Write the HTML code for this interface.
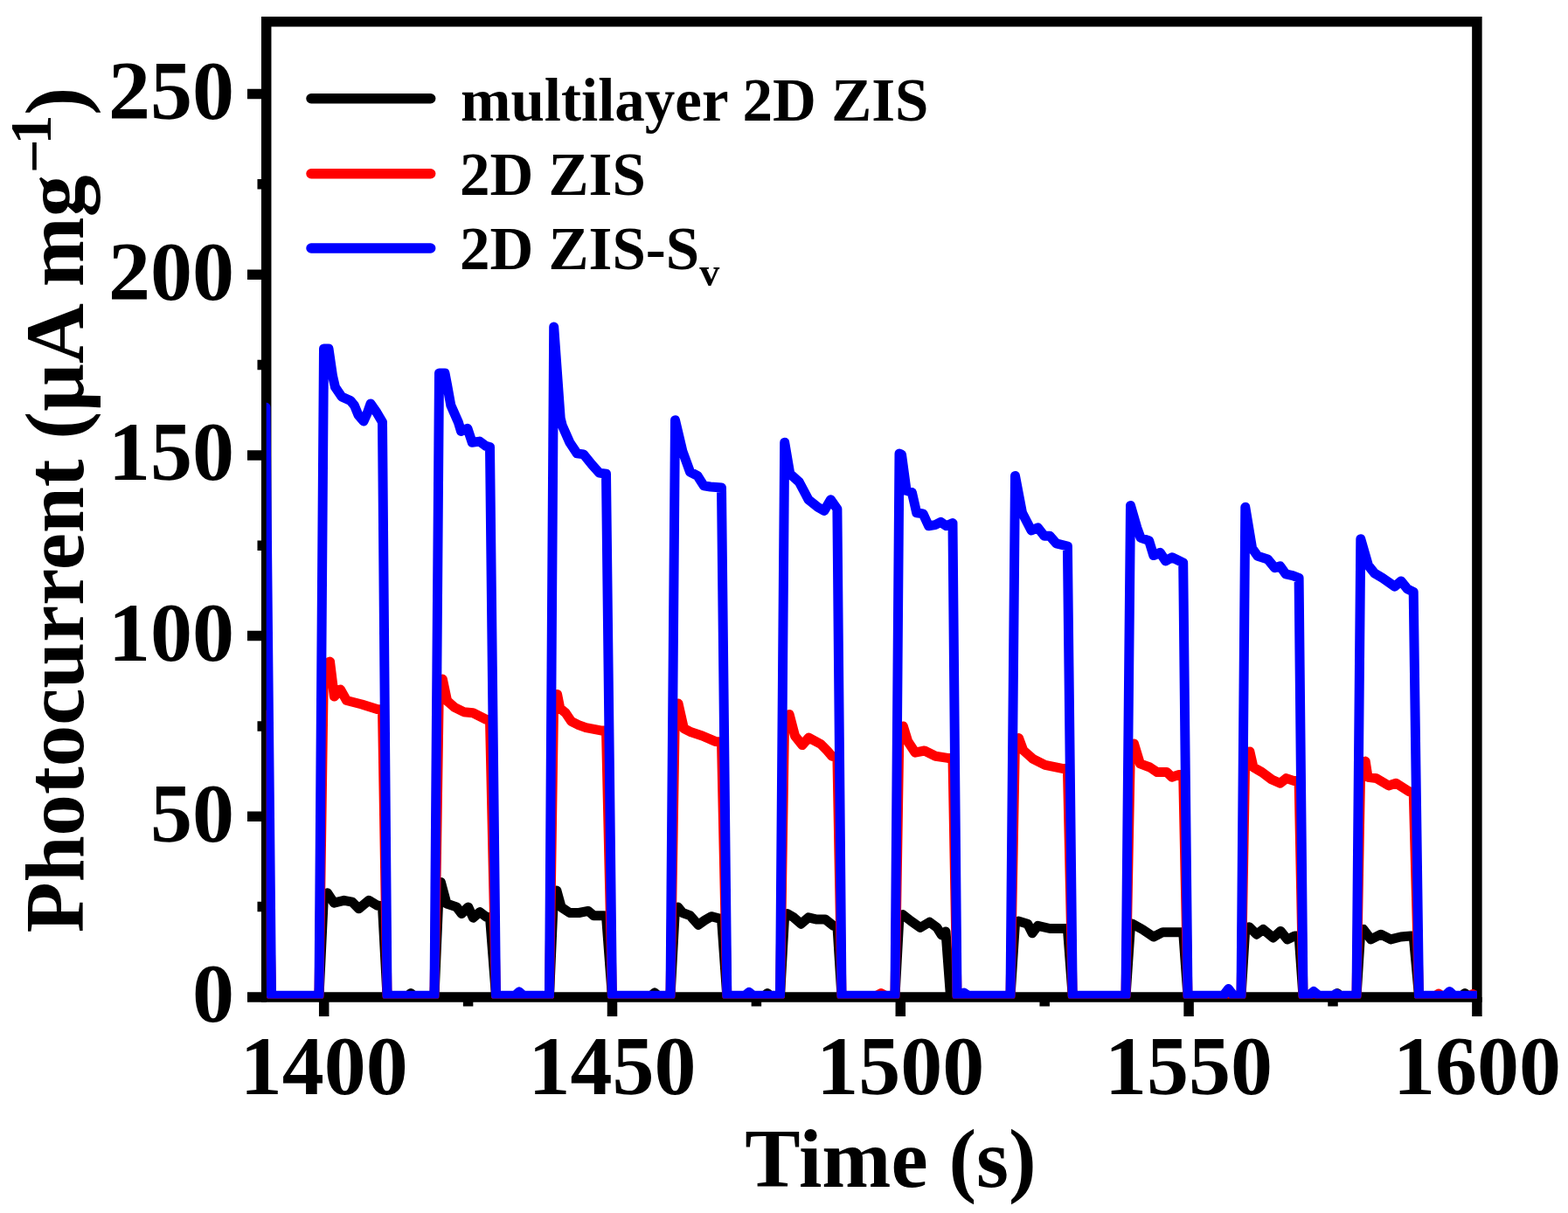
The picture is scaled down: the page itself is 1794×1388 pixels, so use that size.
<!DOCTYPE html>
<html><head><meta charset="utf-8"><style>
html,body{margin:0;padding:0;background:#fff;}
svg{display:block;}
text{font-family:"Liberation Serif","Times New Roman",serif;font-weight:bold;fill:#000;}
</style></head><body>
<svg width="1794" height="1388" viewBox="0 0 1794 1388">
<rect width="1794" height="1388" fill="#fff"/>
<defs><clipPath id="pc"><rect x="304.7" y="24.8" width="1385.2" height="1117.7"/></clipPath></defs>
<g stroke="#000" stroke-width="11.5" fill="none" stroke-linecap="butt">
<rect x="304.7" y="24.8" width="1385.2" height="1116.2" stroke-linejoin="miter"/>
<path d="M370.7 1141.0V1163 M700.5 1141.0V1163 M1030.3 1141.0V1163 M1360.1 1141.0V1163 M1689.9 1141.0V1163 M535.6 1141.0V1151.5 M865.4 1141.0V1151.5 M1195.2 1141.0V1151.5 M1525.0 1141.0V1151.5 M304.7 1141.0H283 M304.7 934.3H283 M304.7 727.6H283 M304.7 520.9H283 M304.7 314.2H283 M304.7 107.5H283 M304.7 1037.6H294.5 M304.7 830.9H294.5 M304.7 624.2H294.5 M304.7 417.5H294.5 M304.7 210.8H294.5"/>
</g>
<g clip-path="url(#pc)" fill="none" stroke-width="11.0" stroke-linejoin="round" stroke-linecap="round">
<path stroke="#000" d="M297.5 1035.0 L304.0 1035.0 L310.5 1140.3 L365.0 1140.3 L370.5 1024.0 L374.6 1021.8 L382.2 1033.2 L393.6 1030.3 L403.0 1032.2 L410.6 1039.8 L422.0 1030.3 L431.5 1036.0 L437.5 1037.0 L443.0 1140.3 L466.0 1140.3 L470.0 1136.5 L474.0 1140.3 L497.0 1140.3 L502.5 1012.0 L504.4 1009.5 L511.0 1034.0 L522.4 1037.9 L528.1 1045.5 L535.7 1037.9 L541.4 1050.2 L549.0 1043.6 L556.6 1049.3 L560.5 1049.5 L567.5 1140.3 L628.5 1140.3 L633.7 1020.0 L636.9 1019.0 L642.2 1038.1 L651.8 1044.5 L662.4 1044.5 L673.0 1042.4 L679.3 1047.7 L689.9 1047.7 L693.5 1048.0 L700.4 1140.3 L744.0 1140.3 L749.0 1136.0 L754.0 1140.3 L767.0 1140.3 L772.5 1039.0 L775.7 1038.0 L781.0 1044.5 L789.5 1047.7 L799.0 1058.3 L806.4 1053.0 L813.8 1048.7 L822.3 1050.8 L825.5 1051.0 L831.8 1140.3 L874.0 1140.3 L878.0 1136.5 L882.0 1140.3 L892.5 1140.3 L897.7 1047.0 L900.7 1045.5 L908.1 1049.8 L916.5 1057.2 L925.0 1049.8 L933.5 1051.9 L944.1 1051.9 L953.6 1059.3 L957.9 1059.5 L963.0 1140.3 L1024.0 1140.3 L1029.0 1048.0 L1032.8 1046.6 L1042.4 1054.0 L1053.0 1061.4 L1063.5 1055.1 L1072.0 1061.4 L1077.3 1069.9 L1082.0 1066.0 L1087.5 1140.3 L1156.0 1140.3 L1161.5 1056.0 L1165.2 1054.0 L1175.8 1057.2 L1181.1 1067.8 L1187.5 1059.3 L1201.2 1062.5 L1218.2 1062.5 L1221.4 1062.5 L1227.2 1140.3 L1288.0 1140.3 L1293.5 1059.0 L1295.5 1057.2 L1307.1 1063.5 L1319.8 1072.0 L1330.4 1066.7 L1349.5 1066.7 L1353.7 1066.7 L1359.0 1140.3 L1420.0 1140.3 L1424.8 1062.0 L1429.2 1060.7 L1437.7 1069.2 L1445.3 1063.5 L1456.7 1073.0 L1465.2 1065.4 L1472.8 1074.9 L1481.3 1071.1 L1486.1 1071.0 L1491.0 1140.3 L1526.0 1140.3 L1530.0 1136.5 L1534.0 1140.3 L1552.0 1140.3 L1556.8 1065.0 L1560.0 1063.5 L1568.5 1074.9 L1579.9 1069.2 L1591.2 1074.9 L1602.6 1072.0 L1614.0 1071.1 L1617.2 1071.0 L1623.5 1140.3 L1672.0 1140.3 L1676.0 1136.5 L1680.0 1140.3 L1695.0 1140.3"/>
<path stroke="#f00" d="M297.5 818.0 L304.0 818.0 L310.5 1139.8 L365.0 1139.8 L370.5 760.0 L377.5 757.0 L382.4 797.0 L389.5 789.0 L396.5 801.5 L414.0 806.0 L431.5 811.6 L437.5 812.0 L443.0 1139.8 L497.0 1139.8 L502.5 778.5 L506.3 777.0 L511.6 802.0 L520.0 809.4 L530.6 814.7 L541.2 815.8 L556.1 823.2 L560.5 824.0 L567.5 1139.8 L628.5 1139.8 L633.7 798.0 L637.6 794.5 L640.8 810.5 L647.1 815.8 L653.5 825.3 L662.0 829.6 L670.4 832.7 L687.4 835.9 L693.5 836.0 L700.4 1139.8 L767.0 1139.8 L772.5 808.0 L776.0 805.0 L782.4 833.5 L790.8 837.8 L803.5 842.0 L818.4 848.4 L825.5 849.0 L831.8 1139.8 L892.5 1139.8 L897.7 820.0 L903.1 817.5 L909.5 842.0 L917.9 852.6 L925.3 844.1 L939.1 851.5 L946.5 859.0 L951.8 865.3 L957.9 866.0 L963.0 1139.8 L1002.0 1139.8 L1008.0 1136.5 L1014.0 1139.8 L1024.0 1139.8 L1029.0 834.0 L1033.4 831.0 L1038.7 848.4 L1047.1 861.1 L1057.7 859.0 L1070.4 865.3 L1084.2 867.4 L1090.0 867.5 L1095.0 1139.8 L1156.0 1139.8 L1161.5 847.0 L1165.6 844.6 L1170.7 858.5 L1181.8 868.3 L1195.7 875.3 L1215.3 879.4 L1221.4 879.5 L1227.2 1139.8 L1288.0 1139.8 L1293.5 853.0 L1297.5 851.0 L1304.4 873.9 L1315.6 878.0 L1324.0 883.6 L1335.1 883.6 L1340.7 889.2 L1349.0 886.4 L1353.7 886.5 L1359.0 1139.8 L1420.0 1139.8 L1424.8 862.0 L1429.9 859.9 L1434.0 878.0 L1443.8 883.6 L1455.0 892.0 L1464.7 896.2 L1471.7 890.6 L1480.0 893.4 L1486.1 893.5 L1491.0 1139.8 L1552.0 1139.8 L1556.8 873.0 L1562.2 871.1 L1565.0 889.2 L1574.8 890.6 L1588.7 898.9 L1597.1 896.2 L1612.4 905.9 L1617.2 906.0 L1623.5 1139.8 L1642.0 1139.8 L1646.0 1137.0 L1650.0 1139.8 L1681.0 1139.8 L1685.0 1137.5 L1689.0 1139.8 L1695.0 1139.8"/>
<path stroke="#00f" d="M297.5 466.0 L304.0 466.0 L310.5 1139.3 L365.0 1139.3 L370.5 399.0 L376.0 399.0 L380.5 430.0 L383.5 443.0 L391.0 454.0 L401.0 458.5 L405.5 464.0 L410.0 475.0 L416.0 482.0 L420.5 472.0 L424.0 462.0 L431.0 472.0 L437.5 483.0 L443.0 1139.3 L497.0 1139.3 L502.5 427.0 L509.0 427.0 L511.6 440.5 L515.8 463.8 L524.3 482.9 L527.5 493.4 L534.9 490.3 L540.2 506.2 L548.6 505.1 L556.1 510.4 L560.5 511.5 L567.5 1139.3 L589.0 1139.3 L594.0 1135.0 L599.0 1139.3 L628.5 1139.3 L633.7 374.0 L641.2 478.6 L643.3 487.0 L651.8 506.2 L660.2 518.9 L667.7 519.9 L677.2 531.6 L685.7 541.1 L693.5 542.2 L700.4 1139.3 L767.0 1139.3 L772.5 480.7 L781.0 516.7 L789.5 540.0 L797.9 544.3 L805.3 555.9 L812.8 557.0 L825.5 558.0 L831.8 1139.3 L852.0 1139.3 L857.0 1135.5 L862.0 1139.3 L892.5 1139.3 L897.7 506.2 L903.8 542.2 L914.4 551.7 L925.0 571.8 L935.6 580.3 L943.0 584.5 L950.4 571.8 L957.9 582.4 L963.0 1139.3 L1024.0 1139.3 L1029.0 519.0 L1031.5 520.0 L1037.1 561.4 L1043.4 563.5 L1048.7 586.8 L1056.1 587.9 L1062.5 601.7 L1069.9 600.6 L1076.3 597.4 L1082.6 601.7 L1090.0 598.5 L1095.0 1139.3 L1098.0 1139.3 L1103.0 1136.0 L1108.0 1139.3 L1156.0 1139.3 L1161.5 544.5 L1169.5 586.8 L1180.0 607.0 L1187.5 603.8 L1194.9 613.3 L1201.2 613.3 L1208.6 621.8 L1221.4 625.0 L1227.2 1139.3 L1288.0 1139.3 L1293.5 578.4 L1300.8 603.8 L1305.0 615.4 L1314.6 618.6 L1319.8 635.6 L1327.3 632.4 L1333.6 641.9 L1341.0 637.7 L1353.7 644.0 L1359.0 1139.3 L1399.5 1139.3 L1405.5 1131.5 L1411.5 1139.3 L1420.0 1139.3 L1424.8 580.3 L1432.6 627.4 L1438.9 636.3 L1450.5 639.9 L1458.5 649.7 L1464.7 647.9 L1471.0 656.8 L1479.0 658.6 L1486.1 661.3 L1491.0 1139.3 L1497.0 1139.3 L1503.0 1134.5 L1509.0 1139.3 L1525.0 1139.3 L1529.0 1137.0 L1533.0 1139.3 L1552.0 1139.3 L1556.8 616.7 L1565.5 647.0 L1572.7 656.0 L1581.6 661.3 L1595.8 671.1 L1603.0 664.9 L1610.1 673.8 L1617.2 677.4 L1623.5 1139.3 L1653.5 1139.3 L1658.5 1134.5 L1663.5 1139.3 L1695.0 1139.3"/>
</g>
<g font-size="96">
<text x="268" y="1169.3" text-anchor="end">0</text><text x="268" y="962.6" text-anchor="end">50</text><text x="268" y="755.9" text-anchor="end">100</text><text x="268" y="549.2" text-anchor="end">150</text><text x="268" y="342.5" text-anchor="end">200</text><text x="268" y="135.8" text-anchor="end">250</text>
<text x="370.7" y="1252" text-anchor="middle">1400</text><text x="700.5" y="1252" text-anchor="middle">1450</text><text x="1030.3" y="1252" text-anchor="middle">1500</text><text x="1360.1" y="1252" text-anchor="middle">1550</text><text x="1689.9" y="1252" text-anchor="middle">1600</text>
<text x="1019" y="1358" text-anchor="middle" font-size="95">Time (s)</text>
<text transform="translate(95.2 0) rotate(-90)"><tspan x="-1067.3" font-size="95">Photocurrent</tspan> <tspan x="-502.7">(μA mg</tspan><tspan x="-198.1" y="-33.3" font-size="68">−</tspan><tspan x="-165.5" y="-37.5" font-size="68">1</tspan><tspan x="-131.7" y="0">)</tspan></text>
</g>
<g fill="none" stroke-width="11.5" stroke-linecap="round">
<path stroke="#000" d="M356 112.7H492.7"/>
<path stroke="#f00" d="M356 198.7H492.7"/>
<path stroke="#00f" d="M356 284H492.7"/>
</g>
<g font-size="69">
<text x="527" y="137.7">multilayer 2D ZIS</text>
<text x="526" y="223.3">2D ZIS</text>
<text x="526" y="308">2D ZIS-S<tspan dy="18.8" font-size="46">v</tspan></text>
</g>
</svg>
</body></html>
